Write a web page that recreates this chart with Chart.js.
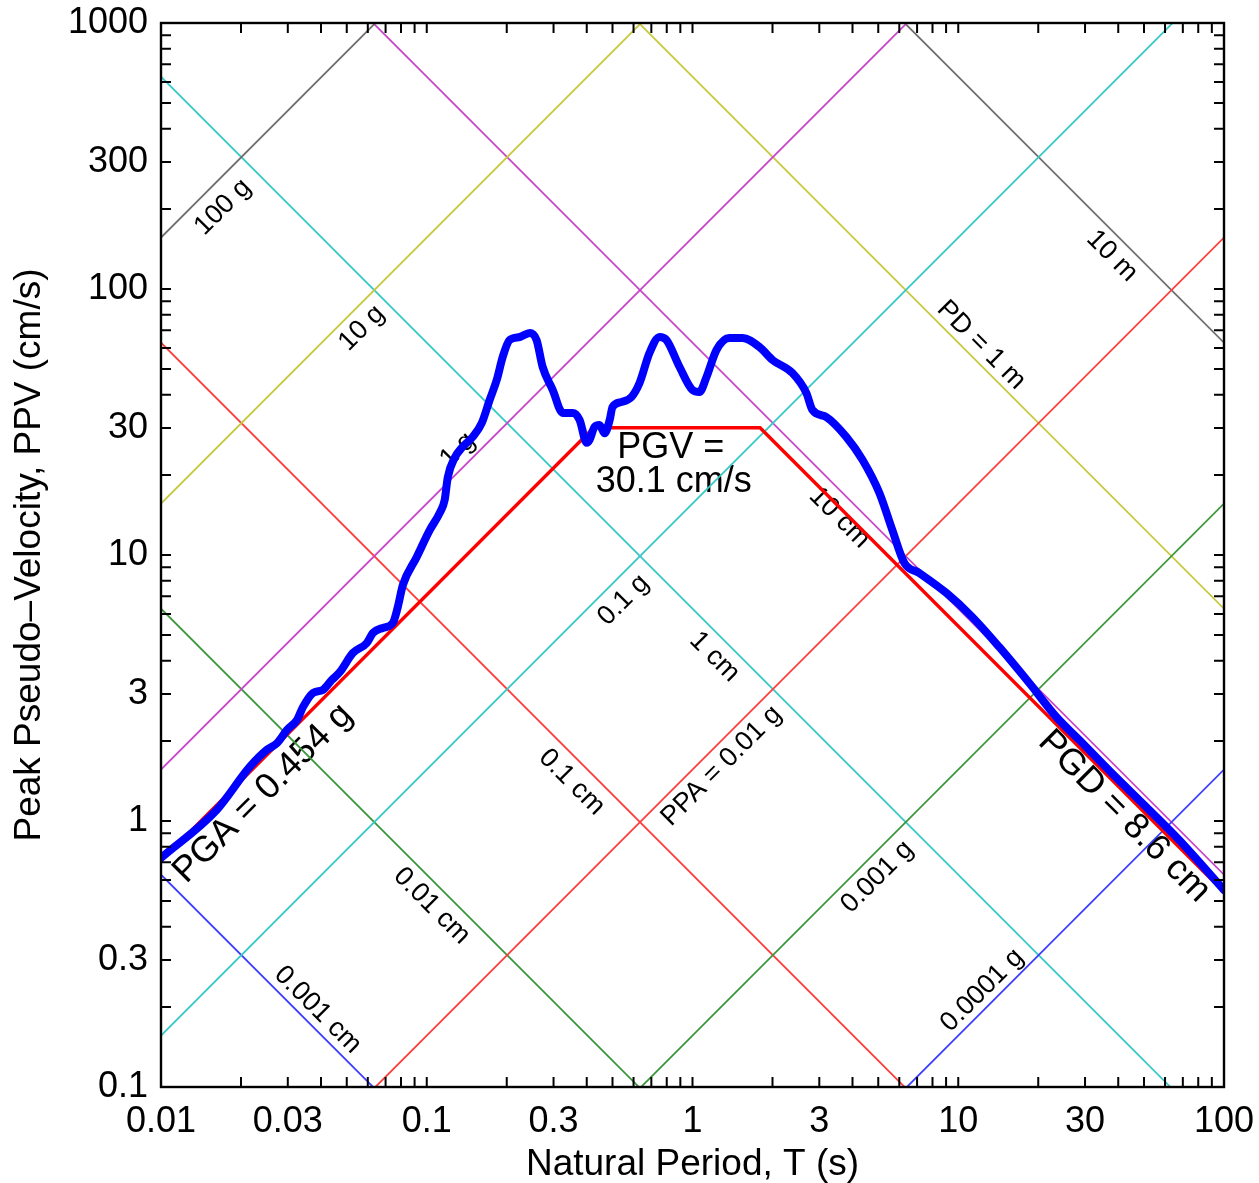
<!DOCTYPE html>
<html>
<head>
<meta charset="utf-8">
<title>Pseudo-velocity response spectrum</title>
<script src="https://cdn.jsdelivr.net/npm/chart.js@4.4.1/dist/chart.umd.min.js"></script>
<style>
  html, body { margin: 0; padding: 0; background: #fff; }
  #wrap { width: 1259px; height: 1183px; }
</style>
</head>
<body>
<div id="wrap"><canvas id="chart" width="1259" height="1183"></canvas></div>
<script>
// tick labels
const periodTicks = [0.01, 0.03, 0.1, 0.3, 1, 3, 10, 30, 100];
const velocityTicks = [0.1, 0.3, 1, 3, 10, 30, 100, 300, 1000];

// spectrum (period s, PSV cm/s)
const periods = [
  0.01, 0.0162, 0.0216, 0.025, 0.0273, 0.0298, 0.0325, 0.0342, 0.0373, 0.0406,
  0.0439, 0.0471, 0.0527, 0.0595, 0.0627, 0.0683, 0.0745, 0.0778, 0.0813, 0.0917,
  0.1026, 0.1119, 0.1168, 0.120, 0.1274, 0.1365, 0.149, 0.161, 0.1725, 0.1834,
  0.1931, 0.205, 0.224, 0.244, 0.259, 0.273, 0.298, 0.325, 0.354, 0.376,
  0.400, 0.410, 0.428, 0.447, 0.467, 0.488, 0.500, 0.541, 0.590, 0.632,
  0.689, 0.752, 0.798, 0.894, 1.0, 1.062, 1.129, 1.231, 1.377, 1.542,
  1.786, 2.0, 2.377, 2.683, 2.825, 3.19, 3.79, 4.36, 5.05, 5.65,
  6.27, 7.13, 9.02, 11.29, 14.26, 18.5, 23.4, 28.5, 37.9, 50.9,
  67.8, 100
];
const psv = [
  0.726, 1.10, 1.60, 1.85, 1.96, 2.20, 2.40, 2.68, 3.03, 3.11,
  3.39, 3.63, 4.28, 4.67, 5.09, 5.32, 5.55, 6.37, 7.71, 9.83,
  12.4, 14.4, 16.1, 19.6, 23.2, 25.5, 27.8, 31.3, 38.3, 45.5,
  55.5, 64.3, 66.0, 68.3, 64.3, 50.9, 41.7, 34.2, 34.2, 32.2,
  26.4, 27.1, 30.3, 30.8, 28.7, 32.2, 36.0, 37.6, 39.3, 44.3,
  57.5, 66.0, 64.3, 50.9, 41.7, 41.0, 46.7, 59.0, 65.4, 65.4,
  60.5, 54.1, 48.3, 40.6, 35.1, 33.0, 27.8, 22.8, 17.1, 12.4,
  9.33, 8.56, 7.20, 5.85, 4.51, 3.30, 2.46, 2.02, 1.51, 1.13,
  0.848, 0.55
];

// peak ground motion
const pga = 0.454; // g
const pgv = 30.1;  // cm/s
const pgd = 8.6;   // cm

// guide lines: constant pseudo-acceleration (g) and displacement (cm)
const accLevels = [100, 10, 1, 0.1, 0.01, 0.001, 0.0001];
const accNames = ['100 g', '10 g', '1 g', '0.1 g', 'PPA = 0.01 g', '0.001 g', '0.0001 g'];
const dispLevels = [0.001, 0.01, 0.1, 1, 10, 100, 1000];
const dispNames = ['0.001 cm', '0.01 cm', '0.1 cm', '1 cm', '10 cm', 'PD = 1 m', '10 m'];

const G = 980.665;
const TWO_PI = 2 * Math.PI;
const T0 = periodTicks[0], T1 = periodTicks[periodTicks.length - 1];

const accColors = ['#6e6e6e', '#c8c83c', '#c846c8', '#3cc8c8', '#ff3c3c', '#3c963c', '#3c3cff'];
const dispColors = ['#3c3cff', '#3c963c', '#ff3c3c', '#3cc8c8', '#c846c8', '#c8c83c', '#6e6e6e'];

// where the guide labels sit (period, psv at label centre)
const accLabelAt = [[0.0171, 203], [0.057, 71.3], [0.1308, 24.8], [0.55, 6.77], [1.285, 1.61], [4.96, 0.616], [12.3, 0.231]];
const dispLabelAt = [[0.0389, 0.195], [0.1044, 0.479], [0.351, 1.40], [1.21, 4.14], [3.57, 13.8], [12.2, 61.6], [37.9, 133]];

const FONT = "'Liberation Sans', Arial, Helvetica, sans-serif";
Chart.defaults.font.family = FONT;
Chart.defaults.color = '#000';

const guideSets = [];
accLevels.forEach((a, i) => {
  guideSets.push({
    data: [T0, T1].map(t => ({ x: t, y: a * G * t / TWO_PI })),
    borderColor: accColors[i], borderWidth: 1.8, order: 3
  });
});
dispLevels.forEach((d, i) => {
  guideSets.push({
    data: [T0, T1].map(t => ({ x: t, y: TWO_PI * d / t })),
    borderColor: dispColors[i], borderWidth: 1.8, order: 3
  });
});

const tA = TWO_PI * pgv / (pga * G);
const tD = TWO_PI * pgd / pgv;
const peakSet = {
  data: [
    { x: T0, y: pga * G * T0 / TWO_PI },
    { x: tA, y: pgv },
    { x: tD, y: pgv },
    { x: T1, y: TWO_PI * pgd / T1 }
  ],
  borderColor: '#ff0000', borderWidth: 3.4, order: 2
};

const spectrumSet = {
  data: periods.map((t, i) => ({ x: t, y: psv[i] })),
  borderColor: '#0000ff', borderWidth: 8, order: 1,
  cubicInterpolationMode: 'monotone',
  borderJoinStyle: 'round', borderCapStyle: 'round'
};

function slopeAngle(chart) {
  const xs = chart.scales.x, ys = chart.scales.y;
  const dx = xs.getPixelForValue(10) - xs.getPixelForValue(1);
  const dy = ys.getPixelForValue(1) - ys.getPixelForValue(10);
  return Math.atan2(dy, dx);
}

function rotatedText(ctx, text, x, y, ang, size) {
  ctx.save();
  ctx.translate(x, y);
  ctx.rotate(ang);
  ctx.font = size + 'px ' + FONT;
  ctx.fillStyle = '#000';
  ctx.textAlign = 'center';
  ctx.textBaseline = 'middle';
  ctx.fillText(text, 0, 0);
  ctx.restore();
}

const decor = {
  id: 'decor',
  beforeDatasetsDraw(chart) {
    const { ctx } = chart;
    const xs = chart.scales.x, ys = chart.scales.y;
    const ang = slopeAngle(chart);
    ctx.save();
    const a = chart.chartArea;
    ctx.beginPath();
    ctx.rect(a.left, a.top, a.right - a.left, a.bottom - a.top);
    ctx.clip();
    accNames.forEach((s, i) => {
      const [t, v] = accLabelAt[i];
      rotatedText(ctx, s, xs.getPixelForValue(t), ys.getPixelForValue(v), -ang, 27);
    });
    dispNames.forEach((s, i) => {
      const [t, v] = dispLabelAt[i];
      rotatedText(ctx, s, xs.getPixelForValue(t), ys.getPixelForValue(v), ang, 27);
    });
    rotatedText(ctx, 'PGA = ' + pga + ' g', xs.getPixelForValue(0.0242), ys.getPixelForValue(1.27), -ang, 36);
    rotatedText(ctx, 'PGD = ' + pgd + ' cm', xs.getPixelForValue(42.1), ys.getPixelForValue(1.04), ang, 36);
    const gx = xs.getPixelForValue(0.85);
    rotatedText(ctx, 'PGV =', gx - 3, ys.getPixelForValue(25.3), 0, 36);
    rotatedText(ctx, pgv + ' cm/s', gx, ys.getPixelForValue(18.8), 0, 36);
    ctx.restore();
  },
  afterDraw(chart) {
    const { ctx } = chart;
    const a = chart.chartArea;
    const xs = chart.scales.x, ys = chart.scales.y;
    const len = 10;
    ctx.save();
    ctx.strokeStyle = '#000';
    ctx.lineWidth = 2;
    ctx.beginPath();
    for (let e = -2; e <= 2; e++) {
      for (let m = 1; m <= 9; m++) {
        const v = m * Math.pow(10, e);
        if (v < 0.01 * 0.999 || v > 100 * 1.001) continue;
        const px = xs.getPixelForValue(v);
        ctx.moveTo(px, a.bottom); ctx.lineTo(px, a.bottom - len);
        ctx.moveTo(px, a.top); ctx.lineTo(px, a.top + len);
      }
    }
    for (let e = -1; e <= 3; e++) {
      for (let m = 1; m <= 9; m++) {
        const v = m * Math.pow(10, e);
        if (v < 0.1 * 0.999 || v > 1000 * 1.001) continue;
        const py = ys.getPixelForValue(v);
        ctx.moveTo(a.left, py); ctx.lineTo(a.left + len, py);
        ctx.moveTo(a.right, py); ctx.lineTo(a.right - len, py);
      }
    }
    ctx.stroke();
    ctx.lineWidth = 2.4;
    ctx.strokeRect(a.left, a.top, a.right - a.left, a.bottom - a.top);
    ctx.restore();
  }
};

new Chart(document.getElementById('chart'), {
  type: 'scatter',
  data: { datasets: [spectrumSet, peakSet, ...guideSets] },
  options: {
    responsive: false,
    animation: false,
    showLine: true,
    elements: { point: { radius: 0, hoverRadius: 0 } },
    layout: { padding: { top: 23, right: 35, left: 0, bottom: 0 } },
    plugins: { legend: { display: false }, tooltip: { enabled: false } },
    scales: {
      x: {
        type: 'logarithmic', position: 'bottom', min: 0.01, max: 100,
        afterBuildTicks: s => { s.ticks = periodTicks.map(v => ({ value: v })); },
        afterFit: s => { s.height = 96; s.paddingLeft = 0; s.paddingRight = 0; },
        ticks: { callback: v => String(v), font: { size: 36 }, padding: 13, maxRotation: 0, autoSkip: false },
        grid: { display: false, drawTicks: false },
        border: { display: false },
        title: { display: true, text: 'Natural Period, T (s)', font: { size: 37 }, padding: { top: 0, bottom: -4 } }
      },
      y: {
        type: 'logarithmic', position: 'left', min: 0.1, max: 1000,
        afterBuildTicks: s => { s.ticks = velocityTicks.map(v => ({ value: v })); },
        afterFit: s => { s.width = 161; s.paddingTop = 0; s.paddingBottom = 0; },
        ticks: { callback: v => String(v), font: { size: 36 }, padding: 13, autoSkip: false },
        grid: { display: false, drawTicks: false },
        border: { display: false },
        title: { display: true, text: 'Peak Pseudo\u2013Velocity, PPV (cm/s)', font: { size: 37 }, padding: { top: 8, bottom: 0 } }
      }
    }
  },
  plugins: [decor]
});
</script>
</body>
</html>
